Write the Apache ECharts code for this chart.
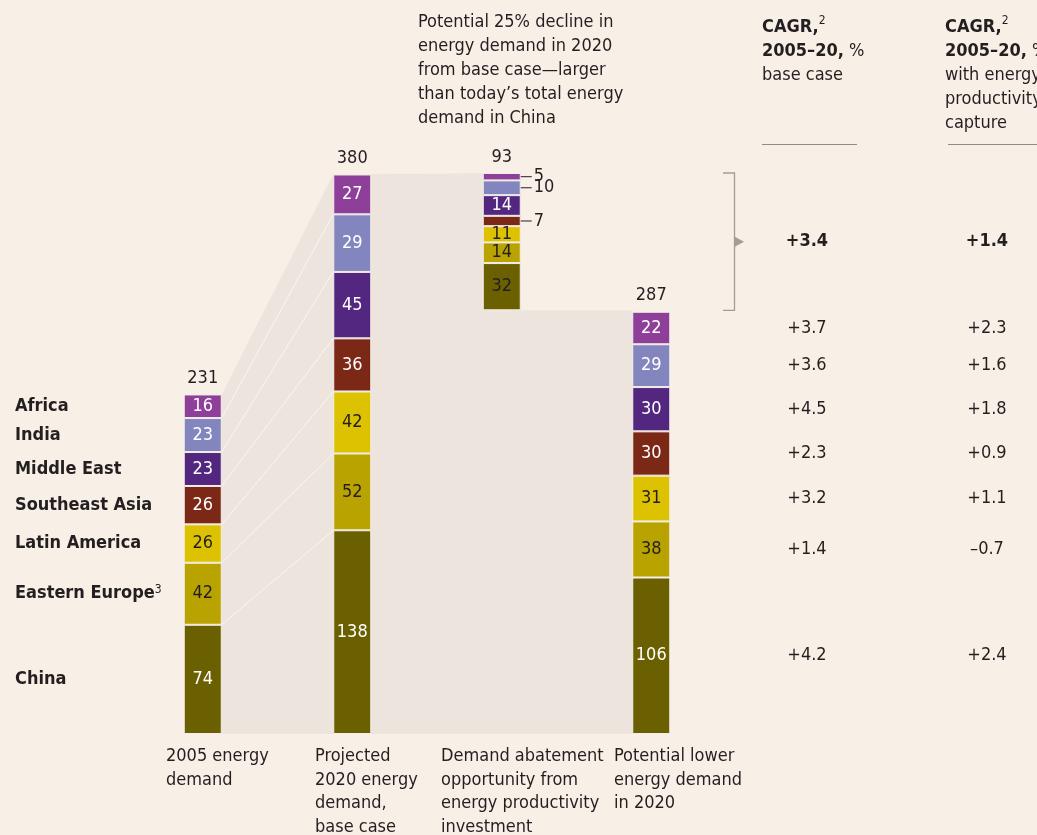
<!DOCTYPE html>
<html>
<head>
<meta charset="utf-8">
<script src="https://cdn.jsdelivr.net/npm/echarts@6/dist/echarts.min.js"></script>
<style>
  html, body { margin: 0; background: #f8efe6; }
  #chart { width: 1037px; height: 835px; }
</style>
</head>
<body>
<div id="chart"></div>
<script>
// regions, bottom of stack to top
var regions = ['China', 'Eastern Europe', 'Latin America', 'Southeast Asia', 'Middle East', 'India', 'Africa'];
var colors = ['#6b6000', '#b9a300', '#dcc200', '#7b2817', '#53277f', '#8385bf', '#8e3f99'];
var stages = [
    '2005 energy\ndemand',
    'Projected\n2020 energy\ndemand,\nbase case',
    'Demand abatement\nopportunity from\nenergy productivity\ninvestment',
    'Potential lower\nenergy demand\nin 2020'
];
var demand2005 = [74, 42, 26, 26, 23, 23, 16];
var demand2020 = [138, 52, 42, 36, 45, 39, 27];
var labels2020 = [138, 52, 42, 36, 45, 29, 27];   // printed label for India reads 29
var abatement = [32, 14, 11, 7, 14, 10, 5];
var lower2020 = [106, 38, 31, 30, 30, 29, 22];
var totals = [231, 380, 93, 287];
var cagrBase = ['+4.2', '+1.4', '+3.2', '+2.3', '+4.5', '+3.6', '+3.7'];
var cagrCapture = ['+2.4', '\u20130.7', '+1.1', '+0.9', '+1.8', '+1.6', '+2.3'];
var cagrTotal = ['+3.4', '+1.4'];

var FONT = "'Liberation Sans Narrow', 'DejaVu Sans Condensed', sans-serif";
var TEXT = '#231f20';
var SHADE = '#ede5dd';
var BAR_W = 38, HALF = BAR_W / 2;

function cumulate(arr) {
    var s = 0;
    return arr.map(function (v) { s += v; return s; });
}
var cum2005 = cumulate(demand2005);
var cum2020 = cumulate(demand2020);
var cumLower = cumulate(lower2020);
var abateBase = totals[1] - totals[2];
var abateTop = abateBase + abatement.reduce(function (a, b) { return a + b; }, 0);

var darkLabels = [1, 2];        // Eastern Europe, Latin America
var outsideAbate = [3, 5, 6];   // small abatement slices labelled on the right

var myChart = echarts.init(document.getElementById('chart'));

var barSeries = regions.map(function (name, i) {
    var vals = [demand2005[i], demand2020[i], abatement[i], lower2020[i]];
    var shown = [demand2005[i], labels2020[i], abatement[i], lower2020[i]];
    return {
        name: name,
        type: 'bar',
        stack: 'total',
        barWidth: BAR_W,
        z: 3,
        silent: true,
        itemStyle: { color: colors[i], borderColor: '#f3eee9', borderWidth: 1 },
        label: {
            show: true, position: 'inside', fontFamily: FONT, fontSize: 18,
            rich: {
                l: { width: 11, height: 1, backgroundColor: TEXT },
                t: { fontFamily: FONT, fontSize: 18, color: TEXT, padding: [0, 0, 0, 2] }
            }
        },
        data: vals.map(function (v, c) {
            var dark = darkLabels.indexOf(i) >= 0 || (i === 0 && c === 2);
            var item = { value: v, label: { formatter: String(shown[c]), color: dark ? TEXT : '#fff' } };
            if (c === 2 && outsideAbate.indexOf(i) >= 0) {
                item.label = { position: 'right', distance: 0, color: TEXT, formatter: '{l|}{t|' + shown[c] + '}' };
            }
            return item;
        })
    };
});

var textEl = function (x, y, text, bold, align) {
    return {
        type: 'text', x: x, y: y,
        style: {
            text: text, font: (bold ? 'bold ' : '') + '18px ' + FONT, fill: TEXT,
            textAlign: align || 'center', textVerticalAlign: 'middle'
        }
    };
};

var headRich = {
    b: { font: 'bold 18px ' + FONT, fill: TEXT, lineHeight: 24 },
    n: { font: '18px ' + FONT, fill: TEXT, lineHeight: 24 },
    s: { font: '12px ' + FONT, fill: TEXT, lineHeight: 24, verticalAlign: 'top', padding: [0, 0, 6, 0] }
};

option = {
    backgroundColor: '#f8efe6',
    animation: false,
    grid: { left: 128, right: 311, top: 173, bottom: 101 },
    xAxis: {
        type: 'category',
        data: stages,
        axisLine: { show: false },
        axisTick: { show: false },
        axisLabel: { show: false }
    },
    yAxis: { type: 'value', min: 0, max: 380, show: false, splitLine: { show: false } },
    graphic: [
        {
            type: 'text', left: 418, top: 10,
            style: {
                text: 'Potential 25% decline in\nenergy demand in 2020\nfrom base case\u2014larger\nthan today\u2019s total energy\ndemand in China',
                font: '18px ' + FONT, fill: TEXT, lineHeight: 24
            }
        },
        {
            type: 'text', left: 762, top: 15,
            style: { text: '{b|CAGR,}{s|2}\n{b|2005\u201320,}{n| %}\n{n|base case}', fill: TEXT, rich: headRich }
        },
        {
            type: 'text', left: 945, top: 15,
            style: {
                text: '{b|CAGR,}{s|2}\n{b|2005\u201320,}{n| %}\n{n|with energy}\n{n|productivity}\n{n|capture}',
                fill: TEXT, rich: headRich
            }
        },
        { type: 'line', shape: { x1: 762, y1: 144.5, x2: 857, y2: 144.5 }, style: { stroke: '#8f8b88', lineWidth: 1 } },
        { type: 'line', shape: { x1: 948, y1: 144.5, x2: 1037, y2: 144.5 }, style: { stroke: '#8f8b88', lineWidth: 1 } },
        { type: 'text', left: 166, top: 745, style: { text: stages[0], font: '18px ' + FONT, fill: TEXT, lineHeight: 23.5 } },
        { type: 'text', left: 315, top: 745, style: { text: stages[1], font: '18px ' + FONT, fill: TEXT, lineHeight: 23.5 } },
        { type: 'text', left: 441, top: 745, style: { text: stages[2], font: '18px ' + FONT, fill: TEXT, lineHeight: 23.5 } },
        { type: 'text', left: 614, top: 745, style: { text: stages[3], font: '18px ' + FONT, fill: TEXT, lineHeight: 23.5 } }
    ],
    series: [
        // shaded flow behind the bars and the thin connector lines
        {
            type: 'custom', z: 1, silent: true, clip: false,
            data: [[0, 0]],
            renderItem: function (params, api) {
                var x = [0, 1, 2, 3].map(function (c) { return api.coord([c, 0])[0]; });
                var y = function (v) { return api.coord([0, v])[1]; };
                var pts = [
                    [x[0] + HALF, y(0)], [x[0] + HALF, y(cum2005[6])],
                    [x[1] - HALF, y(cum2020[6])], [x[2] + HALF, y(abateTop)],
                    [x[2] + HALF, y(abateBase)], [x[3] - HALF, y(abateBase)],
                    [x[3] - HALF, y(0)]
                ];
                var children = [{ type: 'polygon', shape: { points: pts }, style: { fill: SHADE } }];
                for (var k = 0; k < 6; k++) {
                    children.push({
                        type: 'line',
                        shape: { x1: x[0] + HALF, y1: y(cum2005[k]), x2: x[1] - HALF, y2: y(cum2020[k]) },
                        style: { stroke: '#faf6f1', lineWidth: 1 }
                    });
                }
                return { type: 'group', children: children };
            }
        },
        // invisible base for the floating abatement bar
        {
            type: 'bar', stack: 'total', barWidth: BAR_W, silent: true, z: 3,
            itemStyle: { color: 'transparent' },
            data: [0, 0, abateBase, 0]
        }
    ].concat(barSeries).concat([
        // totals above each bar
        {
            type: 'custom', silent: true, clip: false, z: 4,
            data: [[0, cum2005[6]], [1, cum2020[6]], [2, abateTop], [3, cumLower[6]]],
            renderItem: function (params, api) {
                var p = api.coord([api.value(0), api.value(1)]);
                return textEl(p[0], p[1] - 16, String(totals[params.dataIndex]));
            }
        },
        // region names next to the 2005 bar
        {
            type: 'custom', silent: true, clip: false,
            data: regions.map(function (r, i) { return [0, i]; }),
            renderItem: function (params, api) {
                var i = params.dataIndex;
                var yc = api.coord([0, cum2005[i] - demand2005[i] / 2])[1];
                var txt = regions[i] === 'Eastern Europe' ? '{b|Eastern Europe}{s|3}' : '{b|' + regions[i] + '}';
                return {
                    type: 'text', x: 15, y: yc,
                    style: {
                        text: txt, textAlign: 'left', textVerticalAlign: 'middle',
                        rich: {
                            b: { font: 'bold 18px ' + FONT, fill: TEXT },
                            s: { font: '12px ' + FONT, fill: TEXT, verticalAlign: 'top', padding: [0, 0, 8, 0] }
                        }
                    }
                };
            }
        },
        // CAGR columns aligned with the lower-2020 bar segments
        {
            type: 'custom', silent: true, clip: false,
            data: regions.map(function (r, i) { return [3, i]; }),
            renderItem: function (params, api) {
                var i = params.dataIndex;
                var yc = api.coord([3, cumLower[i] - lower2020[i] / 2])[1];
                var children = [textEl(807, yc, cagrBase[i]), textEl(987, yc, cagrCapture[i])];
                if (i === 0) {
                    var yT = api.coord([2, abateTop])[1], yB = api.coord([2, abateBase])[1], yM = (yT + yB) / 2;
                    children.push(textEl(807, yM, cagrTotal[0], true), textEl(987, yM, cagrTotal[1], true));
                    children.push({
                        type: 'polyline',
                        shape: { points: [[723, yT], [734.5, yT], [734.5, yB], [723, yB]] },
                        style: { stroke: '#a29d99', lineWidth: 1.3, fill: null }
                    });
                    children.push({
                        type: 'polygon',
                        shape: { points: [[734, yM - 5.5], [744, yM], [734, yM + 5.5]] },
                        style: { fill: '#a29d99' }
                    });
                }
                return { type: 'group', children: children };
            }
        }
    ])
};

myChart.setOption(option);
</script>
</body>
</html>
